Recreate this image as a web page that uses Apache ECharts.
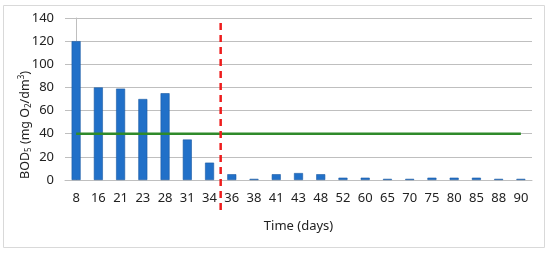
<!DOCTYPE html>
<html>
<head>
<meta charset="utf-8">
<script src="https://cdn.jsdelivr.net/npm/echarts@6/dist/echarts.min.js"></script>
<style>
  html, body { margin: 0; padding: 0; background: #fff; }
  #main { width: 550px; height: 254px; }
</style>
</head>
<body>
<div id="main"></div>
<script>
// 数据
var days = ['8', '16', '21', '23', '28', '31', '34', '36', '38', '41', '43', '48', '52', '60', '65', '70', '75', '80', '85', '88', '90'];
var bod5 = [120, 80, 79, 70, 75, 35, 15, 5, 1, 5, 6, 5, 2, 2, 1, 1, 2, 2, 2, 1, 1];
var limitValue = 40;
var limitLine = days.map(function () { return limitValue; });
// 红色虚线位置: 34 和 36 之间
var splitPos = 6.5;
var splitLine = [[splitPos, -26], [splitPos, 140]];

var font = 'Noto Sans';
var myChart = echarts.init(document.getElementById('main'));

var option = {
    animation: false,
    textStyle: { fontFamily: font },
    graphic: [{
        type: 'rect',
        shape: { x: 3.5, y: 5.5, width: 541, height: 242 },
        style: { fill: 'none', stroke: '#d9d9d9', lineWidth: 1 },
        silent: true
    }, {
        // y 轴标题
        type: 'text',
        x: 25,
        y: 125,
        rotation: Math.PI / 2,
        silent: true,
        style: {
            text: '{n|BOD}{sub|5}{n| (mg O}{sub|2}{n|/dm}{sup|3}{n|)}',
            align: 'center',
            verticalAlign: 'middle',
            rich: {
                n: { fontSize: 12.5, fill: '#222', fontFamily: font },
                sub: { fontSize: 8, fill: '#222', fontFamily: font, verticalAlign: 'bottom', padding: [7, 0, 0, 0] },
                sup: { fontSize: 8, fill: '#222', fontFamily: font, verticalAlign: 'top', padding: [0, 0, 7, 0] }
            }
        }
    }],
    grid: { left: 65, right: 18, top: 18, bottom: 74 },
    xAxis: [{
        type: 'category',
        data: days,
        name: 'Time (days)',
        nameLocation: 'middle',
        nameGap: 40,
        nameTextStyle: { fontSize: 13, color: '#222' },
        axisLine: { lineStyle: { color: '#bfbfbf' } },
        axisTick: { show: false },
        axisLabel: { fontSize: 13, color: '#222', margin: 12, interval: 0 }
    }, {
        type: 'value',
        min: -0.5,
        max: days.length - 0.5,
        show: false
    }],
    yAxis: {
        type: 'value',
        min: 0,
        max: 140,
        interval: 20,
        axisLine: { show: true, lineStyle: { color: '#bfbfbf' } },
        axisTick: { show: false },
        axisLabel: { fontSize: 13, color: '#222', margin: 11 },
        splitLine: { lineStyle: { color: '#bfbfbf', width: 1 } }
    },
    series: [{
        name: 'BOD5',
        type: 'bar',
        data: bod5,
        barWidth: 9,
        itemStyle: { color: '#2170c8', borderColor: '#1b5aa3', borderWidth: 0.6 }
    }, {
        name: 'limit',
        type: 'line',
        data: limitLine,
        symbol: 'none',
        lineStyle: { color: '#2f8a2a', width: 2.5 }
    }, {
        name: 'split',
        type: 'line',
        xAxisIndex: 1,
        data: splitLine,
        symbol: 'none',
        clip: false,
        lineStyle: { color: '#ee1c1c', width: 2.5, type: [7, 5] }
    }]
};

myChart.setOption(option);
</script>
</body>
</html>
